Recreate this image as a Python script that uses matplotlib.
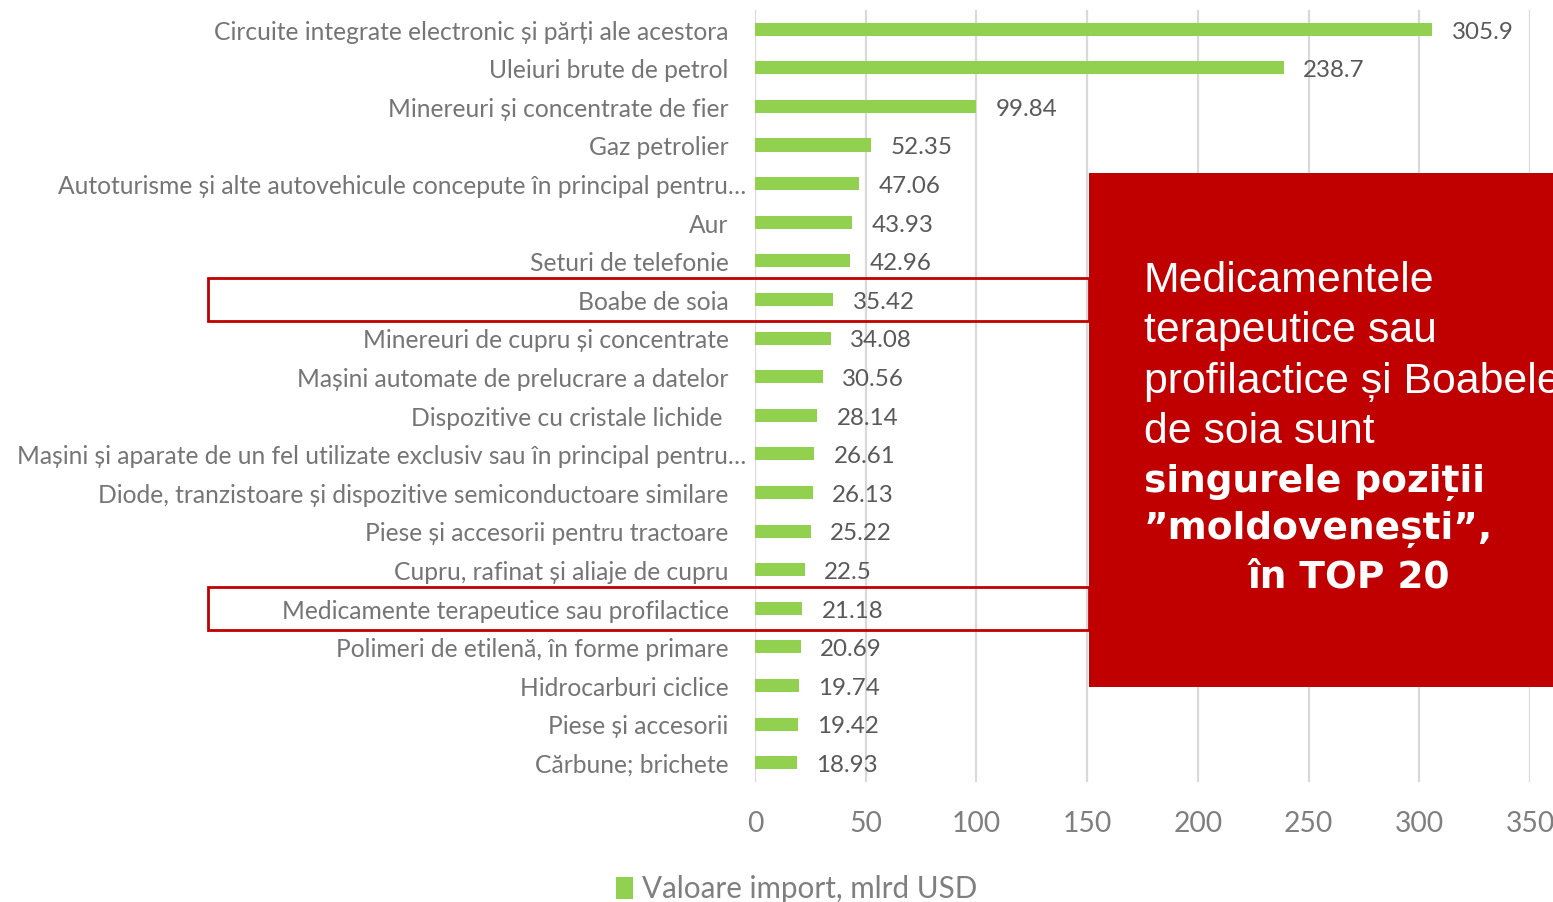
import matplotlib.pyplot as plt
import matplotlib.transforms as mtransforms
from matplotlib.patches import Rectangle, Patch

# data
categories = [
    "Circuite integrate electronic și părți ale acestora",
    "Uleiuri brute de petrol",
    "Minereuri și concentrate de fier",
    "Gaz petrolier",
    "Autoturisme și alte autovehicule concepute în principal pentru…",
    "Aur",
    "Seturi de telefonie",
    "Boabe de soia",
    "Minereuri de cupru și concentrate",
    "Mașini automate de prelucrare a datelor",
    "Dispozitive cu cristale lichide ",
    "Mașini și aparate de un fel utilizate exclusiv sau în principal pentru…",
    "Diode, tranzistoare și dispozitive semiconductoare similare",
    "Piese și accesorii pentru tractoare",
    "Cupru, rafinat și aliaje de cupru",
    "Medicamente terapeutice sau profilactice",
    "Polimeri de etilenă, în forme primare",
    "Hidrocarburi ciclice",
    "Piese și accesorii",
    "Cărbune; brichete",
]
values = [305.9, 238.7, 99.84, 52.35, 47.06, 43.93, 42.96, 35.42, 34.08, 30.56,
          28.14, 26.61, 26.13, 25.22, 22.5, 21.18, 20.69, 19.74, 19.42, 18.93]
value_labels = ["305.9", "238.7", "99.84", "52.35", "47.06", "43.93", "42.96", "35.42",
                "34.08", "30.56", "28.14", "26.61", "26.13", "25.22", "22.5", "21.18",
                "20.69", "19.74", "19.42", "18.93"]
highlighted = ["Boabe de soia", "Medicamente terapeutice sau profilactice"]
xticks = [0, 50, 100, 150, 200, 250, 300, 350]
legend_label = "Valoare import, mlrd USD"

GREEN = "#92D050"
RED = "#C00000"
FONT = "Lato"

fig = plt.figure(figsize=(15.53, 9.02), dpi=100)
ax = fig.add_axes([0.4862, 0.1330, 0.4990, 0.8560])

ypos = list(range(len(categories)))
ax.barh(ypos, values, height=0.34, color=GREEN, zorder=2)
ax.set_ylim(len(categories) - 0.5, -0.5)
ax.set_xlim(0, 350)
ax.set_xticks(xticks)
ax.set_xticklabels([str(t) for t in xticks], fontsize=20.3, family=FONT, color="#7F7F7F")
ax.tick_params(axis="x", length=0, pad=21)
ax.set_yticks([])
ax.grid(axis="x", color="#D9D9D9", linewidth=1.6, zorder=0)
for s in ax.spines.values():
    s.set_visible(False)

# value labels
for y, v, lab in zip(ypos, values, value_labels):
    ax.annotate(lab, (v, y), xytext=(14, -2), textcoords="offset points",
                ha="left", va="center", fontsize=17.4, family=FONT, color="#595959")

# category labels
lab_trans = mtransforms.blended_transform_factory(ax.transAxes, ax.transData)
for y, c in zip(ypos, categories):
    off = -0.011 if c.endswith("…") else -0.034
    ax.annotate(c, (off, y), xycoords=lab_trans, xytext=(0, -2), textcoords="offset points",
                ha="right", va="center", fontsize=17.7, family=FONT, color="#757575")

# outline boxes around the Moldovan positions
box_trans = mtransforms.blended_transform_factory(fig.transFigure, ax.transData)
for name in highlighted:
    y = categories.index(name)
    fig.add_artist(Rectangle((0.134, y - 0.55), 0.5672, 1.1, transform=box_trans,
                             fill=False, edgecolor=RED, linewidth=2, zorder=5))

# red callout box
fig.add_artist(Rectangle((0.7012, 0.2384), 0.30, 0.5698, transform=fig.transFigure,
                         facecolor=RED, edgecolor="none", zorder=10))
normal_lines = ["Medicamentele", "terapeutice sau", "profilactice și Boabele", "de soia sunt"]
bold_lines = ["singurele poziții", "”moldovenești”,", "în TOP 20"]
bold_x = [0.7365, 0.7365, 0.8036]
x0 = 0.7365
y0 = 1 - 281 / 902
step = 50.3 / 902
for i, line in enumerate(normal_lines):
    fig.text(x0, y0 - i * step, line, ha="left", va="center", fontsize=30.8,
             family="Liberation Sans", color="white", zorder=11)
yb = 1 - 482 / 902
bstep = 48 / 902
for j, line in enumerate(bold_lines):
    fig.text(bold_x[j], yb - j * bstep, line, ha="left", va="center", fontsize=27,
             family="DejaVu Sans", weight="bold", color="white", zorder=11)

# legend
fig.legend(handles=[Patch(facecolor=GREEN, edgecolor="none", label=legend_label)],
           loc="center", bbox_to_anchor=(0.513, 0.014), frameon=False,
           prop={"family": FONT, "size": 21.3}, handlelength=0.55, handleheight=0.75,
           handletextpad=0.3, labelcolor="#7F7F7F")

fig.savefig("out.png", dpi=100)
